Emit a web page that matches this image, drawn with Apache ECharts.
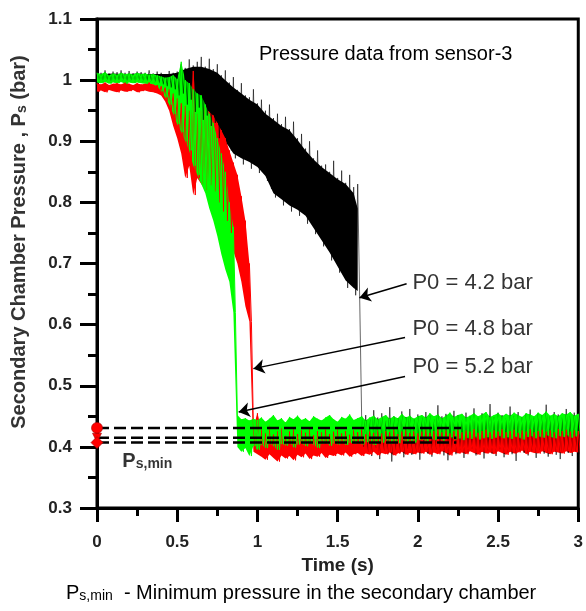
<!DOCTYPE html>
<html><head><meta charset="utf-8">
<script src="https://cdn.jsdelivr.net/npm/echarts@6/dist/echarts.min.js"></script>
<style>html,body{margin:0;padding:0;background:#fff}#c{width:586px;height:611px}</style>
</head><body><div id="c"></div>
<script>
// ---- data ----
// noisy signals given as upper/lower envelope samples every 0.025 s (t = 0 ... 3 s)
const sampleStep = 0.025;
const greenHi = [1.012,1.010,1.013,1.008,1.011,1.009,1.012,1.010,1.011,1.009,1.012,1.010,1.011,1.009,1.010,1.008,
1.006,1.004,1.005,1.008,1.002,1.030,1.000,0.995,0.985,0.978,0.975,0.960,0.945,0.930,0.905,0.880,0.850,0.800,0.760,
0.452,0.445,0.447,0.443,0.446,0.444,
0.448,0.441,0.446,0.452,0.443,0.447,0.440,0.449,0.445,0.451,
0.444,0.447,0.442,0.450,0.446,0.443,0.448,0.452,0.445,0.441,
0.449,0.446,0.453,0.444,0.447,0.450,0.443,0.448,0.451,0.445,
0.449,0.452,0.446,0.450,0.447,0.454,0.448,0.451,0.446,0.450,
0.452,0.448,0.455,0.450,0.453,0.447,0.451,0.456,0.449,0.452,
0.454,0.448,0.451,0.455,0.450,0.453,0.457,0.449,0.452,0.455,
0.450,0.454,0.451,0.456,0.452,0.449,0.455,0.453,0.450,0.456,
0.452,0.458,0.451,0.454,0.450,0.455,0.453,0.457,0.451,0.454];
const greenLo = [0.996,0.995,0.997,0.994,0.996,0.995,0.997,0.994,0.996,0.995,0.996,0.995,0.994,0.995,0.993,0.990,
0.982,0.972,0.960,0.945,0.928,0.915,0.900,0.885,0.860,0.845,0.830,0.815,0.790,0.770,0.745,0.715,0.690,0.670,0.620,
0.400,0.392,0.398,0.385,0.402,0.395,
0.404,0.398,0.406,0.401,0.395,0.405,0.402,0.408,0.399,0.404,
0.406,0.401,0.407,0.403,0.398,0.405,0.408,0.402,0.406,0.404,
0.409,0.403,0.407,0.405,0.410,0.404,0.408,0.406,0.403,0.409,
0.407,0.411,0.405,0.409,0.406,0.412,0.408,0.410,0.407,0.411,
0.412,0.409,0.414,0.411,0.415,0.410,0.413,0.416,0.412,0.414,
0.411,0.415,0.413,0.417,0.412,0.414,0.416,0.413,0.415,0.418,
0.414,0.416,0.413,0.417,0.415,0.412,0.416,0.418,0.414,0.417,
0.415,0.419,0.416,0.414,0.418,0.416,0.419,0.415,0.417,0.420];
const redHi = [0.995,0.993,0.996,0.992,0.994,0.995,0.993,0.996,0.994,0.992,0.995,0.993,0.994,0.996,0.993,0.992,
0.990,0.988,0.985,0.978,0.970,0.962,0.958,0.950,1.015,0.945,0.950,0.955,0.948,0.942,0.930,0.918,0.905,0.885,0.865,0.845,0.810,0.770,0.700,
0.432,0.455,
0.428,0.422,0.435,0.420,0.426,0.431,0.418,0.425,0.429,0.421,
0.427,0.423,0.430,0.419,0.426,0.424,0.428,0.421,0.425,0.429,
0.422,0.426,0.420,0.427,0.424,0.428,0.421,0.425,0.423,0.427,
0.422,0.426,0.424,0.428,0.421,0.425,0.427,0.423,0.426,0.422,
0.425,0.428,0.423,0.426,0.429,0.424,0.427,0.422,0.426,0.428,
0.424,0.427,0.425,0.429,0.423,0.426,0.428,0.424,0.427,0.425,
0.429,0.424,0.426,0.428,0.423,0.427,0.425,0.429,0.424,0.426,
0.428,0.425,0.427,0.424,0.429,0.426,0.428,0.425,0.427,0.426];
const redLo = [0.981,0.983,0.980,0.984,0.982,0.980,0.983,0.981,0.982,0.984,0.980,0.982,0.983,0.981,0.980,0.978,
0.975,0.965,0.950,0.925,0.905,0.880,0.840,0.860,0.812,0.840,0.830,0.820,0.828,0.818,0.800,0.785,0.770,0.750,0.720,0.700,0.670,0.630,0.605,
0.392,0.388,
0.384,0.379,0.388,0.382,0.376,0.386,0.381,0.385,0.378,0.387,
0.383,0.389,0.380,0.386,0.384,0.390,0.382,0.387,0.385,0.389,
0.386,0.391,0.384,0.388,0.390,0.385,0.389,0.387,0.392,0.386,
0.390,0.388,0.391,0.386,0.389,0.392,0.387,0.390,0.388,0.391,
0.389,0.392,0.387,0.391,0.388,0.393,0.390,0.386,0.392,0.389,
0.391,0.388,0.393,0.390,0.387,0.392,0.389,0.391,0.388,0.393,
0.390,0.387,0.392,0.389,0.391,0.394,0.388,0.392,0.390,0.389,
0.393,0.390,0.388,0.392,0.391,0.389,0.393,0.390,0.392,0.391];
const blackHi = [1.015,1.012,1.016,1.011,1.014,1.013,1.016,1.012,1.015,1.011,1.014,1.013,1.012,1.016,1.011,1.014,
1.012,1.010,1.015,1.012,
1.014,1.026,1.020,1.034,1.024,1.030,1.038,1.022,1.035,1.018,1.026,1.008,1.016,0.996,1.005,0.984,0.995,0.975,0.972,0.985,
0.962,0.968,0.950,0.960,0.938,0.945,0.928,0.940,0.920,0.932,0.905,0.912,0.888,0.900,0.872,0.885,0.860,0.862,0.850,0.868,0.840,0.852,0.832,0.845,0.825,0.830,
0.445,
0.452,0.445,0.460,0.448,0.455,0.443,0.465,0.450,0.447,0.458,
0.449,0.462,0.446,0.453,0.448,0.457,0.451,0.445,0.468,0.450,
0.454,0.447,0.459,0.452,0.446,0.456,0.450,0.463,0.448,0.455,
0.451,0.470,0.449,0.456,0.452,0.447,0.466,0.451,0.457,0.449,
0.454,0.461,0.448,0.455,0.452,0.469,0.450,0.457,0.453,0.448,
0.462,0.451,0.456,0.450];
const blackLo = [0.998,0.997,0.999,0.996,0.998,0.997,0.999,0.997,0.998,0.996,0.998,0.997,0.999,0.997,0.996,0.995,
0.993,0.990,0.988,0.985,
0.975,0.978,0.960,0.968,0.948,0.955,0.935,0.942,0.925,0.930,0.905,0.915,0.895,0.885,0.872,0.878,0.862,0.870,0.855,0.862,
0.848,0.850,0.835,0.822,0.808,0.810,0.795,0.800,0.785,0.792,0.778,0.782,0.765,0.768,0.748,0.752,0.728,0.732,0.705,0.712,0.685,0.690,0.660,0.668,0.648,0.642,
0.400,
0.392,0.385,0.398,0.380,0.394,0.388,0.376,0.395,0.390,0.383,
0.397,0.387,0.392,0.379,0.395,0.389,0.384,0.396,0.391,0.386,
0.378,0.393,0.388,0.395,0.382,0.390,0.397,0.386,0.392,0.381,
0.394,0.389,0.385,0.396,0.383,0.391,0.388,0.377,0.394,0.390,
0.386,0.393,0.382,0.395,0.389,0.384,0.392,0.387,0.380,0.394,
0.390,0.385,0.393,0.388];
// dense (solid) core of the black trace before its drop, sampled every 0.05 s
const blackCoreTime = [0,0.05,0.1,0.15,0.2,0.25,0.3,0.35,0.4,0.45,0.5,0.55,0.6,0.65,0.7,0.75,0.8,0.85,0.9,0.95,
1.0,1.05,1.1,1.15,1.2,1.25,1.3,1.35,1.4,1.45,1.5,1.55,1.6,1.625];
const blackCoreHi = [1.010,1.010,1.011,1.010,1.010,1.011,1.010,1.010,1.010,1.010,1.012,1.018,1.022,1.022,1.018,1.012,1.000,0.988,0.978,0.968,
0.960,0.945,0.935,0.925,0.918,0.902,0.885,0.870,0.858,0.848,0.838,0.830,0.815,0.790];
const blackCoreLo = [0.998,0.998,0.999,0.998,0.998,0.999,0.998,0.998,0.997,0.992,0.982,0.972,0.958,0.945,0.932,0.918,0.900,0.880,0.872,0.866,
0.858,0.843,0.815,0.805,0.795,0.788,0.778,0.758,0.738,0.718,0.695,0.672,0.660,0.655];

// minimum-pressure reference levels (circle, triangle, diamond) and where their dashed lines end
const psMin = [0.431, 0.415, 0.407];
const psMinEnd = [2.27, 2.24, 2.24];

// annotations
const annoText = ['P0 = 4.2 bar', 'P0 = 4.8 bar', 'P0 = 5.2 bar'];
const annoTextAt = [[1.963, 0.669], [1.963, 0.593], [1.963, 0.530]];
const arrowFrom = [[1.93, 0.667], [1.92, 0.579], [1.92, 0.515]];
const arrowTo = [[1.636, 0.644], [0.975, 0.528], [0.883, 0.457]];

const yTicks = [0.3, 1.1, 0.1];
const xTicks = [0, 3, 0.5];

// ---- build ----
const FONT = 'Liberation Sans, Arial, Helvetica, sans-serif';
const time = greenHi.map((_, i) => +(i * sampleStep).toFixed(4));
function zig(hi, lo) {
  const d = [];
  for (let i = 0; i < hi.length; i++) {
    d.push([time[i], hi[i]]);
    d.push([time[i] + sampleStep / 2, lo[i]]);
  }
  return d;
}
function bandSeries(name, t, hi, lo, color, opacity) {
  return { name, type: 'custom', data: [[0, 0.3]], silent: true, animation: false, z: 2, clip: true,
    renderItem: (params, api) => {
      const pts = [];
      for (let i = 0; i < hi.length; i++) pts.push(api.coord([t[i], hi[i]]));
      for (let i = lo.length - 1; i >= 0; i--) pts.push(api.coord([t[i], lo[i]]));
      return { type: 'polygon', shape: { points: pts }, style: { fill: color, opacity } };
    } };
}
function zigSeries(name, hi, lo, color, opacity) {
  return { name, type: 'line', data: zig(hi, lo), showSymbol: false, symbol: 'none', sampling: null,
    animation: false, z: 2, silent: true, lineStyle: { color, width: 1, opacity } };
}
const fmt = v => String(parseFloat((+v).toFixed(2)));
const chart = echarts.init(document.getElementById('c'), null, { renderer: 'canvas' });
const series = [
  zigSeries('P0 = 4.2 bar', blackHi, blackLo, '#000000', 0.6),
  bandSeries('P0 = 4.2 bar core', blackCoreTime, blackCoreHi, blackCoreLo, '#000000', 1),
  bandSeries('P0 = 4.8 bar band', time, redHi, redLo, '#ff0000', 1),
  zigSeries('P0 = 4.8 bar', redHi, redLo, '#ff0000', 1),
  bandSeries('P0 = 5.2 bar band', time, greenHi, greenLo, '#00ff00', 1),
  zigSeries('P0 = 5.2 bar', greenHi, greenLo, '#00ff00', 1)
];
psMin.forEach((v, i) => series.push({
  type: 'line', data: [[0, v], [psMinEnd[i], v]], showSymbol: false, symbol: 'none',
  lineStyle: { color: '#000', width: 2.5, type: [12, 5] }, animation: false, z: 3
}));
const markerSym = ['circle', 'triangle', 'diamond'];
const markerSize = [11, 9, 12];
const markerRot = [0, 180, 0];
series.push({
  type: 'scatter', clip: false, animation: false, z: 5,
  data: psMin.map((v, i) => ({ value: [0, v], symbol: markerSym[i], symbolSize: markerSize[i], symbolRotate: markerRot[i] })),
  itemStyle: { color: '#ff0000', borderColor: '#a00000', borderWidth: 0.6, opacity: 1 }
});
series.push({
  type: 'lines', coordinateSystem: 'cartesian2d', animation: false, z: 6,
  symbol: ['none', 'arrow'], symbolSize: 11,
  lineStyle: { color: '#000', width: 1.5, opacity: 1 },
  data: arrowFrom.map((f, i) => ({ coords: [f, arrowTo[i]] }))
});
series.push({
  type: 'scatter', animation: false, z: 7, symbolSize: 1, itemStyle: { color: 'rgba(0,0,0,0)' },
  label: { show: true, position: 'right', distance: 0, color: '#000', fontSize: 22, fontFamily: FONT,
    formatter: p => p.data.t,
    rich: { n: { fontSize: 20, fontWeight: 'bold', fontFamily: FONT, color: '#000', padding: [0, 0, 5, 0] },
            s: { fontSize: 14, fontWeight: 'bold', fontFamily: FONT, color: '#000' } } },
  data: annoText.map((t, i) => ({ value: annoTextAt[i], t }))
    .concat([{ value: [0.155, 0.372], t: '{n|P}{s|s,min}' }])
});

chart.setOption({
  animation: false,
  backgroundColor: '#fff',
  title: { text: 'Pressure data from sensor-3', left: 259, top: 44, padding: 0,
    textStyle: { fontSize: 20, fontWeight: 'normal', color: '#000', fontFamily: FONT } },
  grid: { left: 97, right: 3, top: 19, bottom: 103, show: true, borderColor: '#000', borderWidth: 3, backgroundColor: 'transparent' },
  xAxis: { type: 'value', min: xTicks[0], max: xTicks[1], interval: xTicks[2],
    name: 'Time (s)', nameLocation: 'middle', nameGap: 48,
    nameTextStyle: { fontSize: 19, fontWeight: 'bold', color: '#222', fontFamily: FONT },
    axisLine: { show: true, onZero: false, lineStyle: { color: '#000', width: 3 } },
    axisTick: { show: true, length: 14, lineStyle: { color: '#000', width: 3 } },
    minorTick: { show: true, splitNumber: 2, length: 8, lineStyle: { color: '#000', width: 3 } },
    splitLine: { show: false }, minorSplitLine: { show: false },
    axisLabel: { margin: 26, fontSize: 17, fontWeight: 'bold', color: '#222', fontFamily: FONT, formatter: fmt } },
  yAxis: { type: 'value', min: yTicks[0], max: yTicks[1], interval: yTicks[2],
    axisLine: { show: true, onZero: false, lineStyle: { color: '#000', width: 3 } },
    axisTick: { show: true, length: 17, lineStyle: { color: '#000', width: 3 } },
    minorTick: { show: true, splitNumber: 2, length: 9, lineStyle: { color: '#000', width: 3 } },
    splitLine: { show: false }, minorSplitLine: { show: false },
    axisLabel: { margin: 25, fontSize: 17, fontWeight: 'bold', color: '#222', fontFamily: FONT, formatter: fmt } },
  graphic: [
    { type: 'text', x: 22, y: 242, rotation: Math.PI / 2, silent: true,
      style: { text: '{n|Secondary Chamber Pressure , P}{s|s}{n| (bar)}', align: 'center', verticalAlign: 'middle',
        rich: { n: { fontSize: 20, fontWeight: 'bold', fontFamily: FONT, fill: '#333', padding: [0, 0, 5, 0] },
                s: { fontSize: 14, fontWeight: 'bold', fontFamily: FONT, fill: '#333' } } } },
    { type: 'text', x: 66, y: 596, silent: true,
      style: { text: '{n|P}{s|s,min}{n|  - Minimum pressure in the secondary chamber}', align: 'left', verticalAlign: 'middle',
        rich: { n: { fontSize: 20, fontFamily: FONT, fill: '#000', padding: [0, 0, 5, 0] },
                s: { fontSize: 14, fontFamily: FONT, fill: '#000' } } } }
  ],
  series
});
</script></body></html>
